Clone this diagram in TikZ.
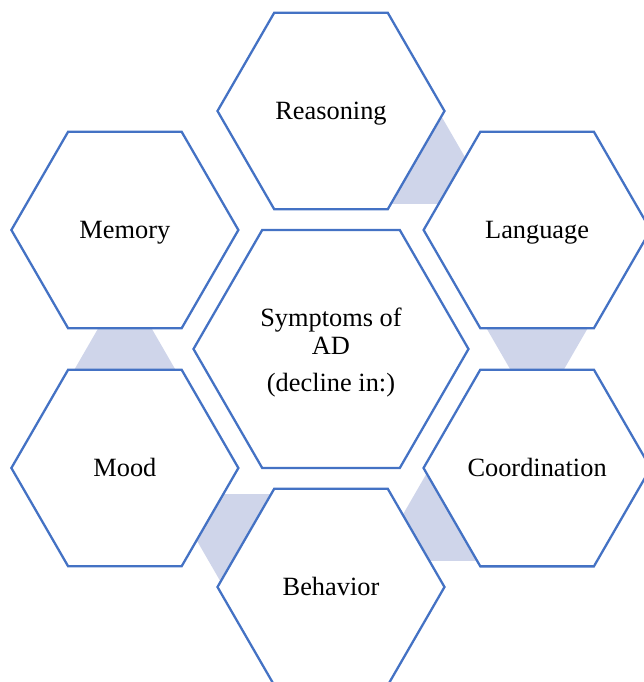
\documentclass[tikz,border=0pt]{standalone}
\usepackage{fontspec}
\setmainfont{Liberation Serif}
\usetikzlibrary{calc,shapes.geometric,backgrounds}
\definecolor{hexblue}{HTML}{4472C4}
\definecolor{hexlink}{HTML}{CFD5EA}
\tikzset{
	hexnode/.style={regular polygon, regular polygon sides=6, draw=hexblue, line width=1.3pt, fill=white, inner sep=0pt, align=center, font=\fontsize{15}{15.9}\selectfont},
	outerhex/.style={hexnode, minimum size=4.54cm, text height=11pt, text depth=1pt},
	centerhex/.style={hexnode, minimum size=5.5cm, text height=50.4pt, text depth=1.6pt},
	linkhex/.style={regular polygon, regular polygon sides=6, fill=hexlink, draw=none, inner sep=0pt, minimum size=2.04cm}
}

\begin{document}
\begin{tikzpicture}
		%%%%% START %%%%%
		
		\useasboundingbox (-6.62, -6.66) rectangle (6.24, 6.98);
		
		\node[centerhex] (symptoms) at (0, 0) {Symptoms of\\AD\\[5.6pt](decline in:)};
		
		\foreach \ang/\name/\txt in {90/reasoning/Reasoning, 30/language/Language, -30/coordination/Coordination, -90/behavior/Behavior, -150/mood/Mood, 150/memory/Memory}
			\node[outerhex] (\name) at (\ang:4.76) {\txt};
		
		\begin{scope}[on background layer]
			\foreach \from/\to [count=\i] in {reasoning/language, language/coordination, coordination/behavior, behavior/mood, mood/memory}
				\node[linkhex] (link\i) at ($(\from)!0.41!(\to)$) {};
		\end{scope}
		
		%%%%% END %%%%%
\end{tikzpicture}
\end{document}
